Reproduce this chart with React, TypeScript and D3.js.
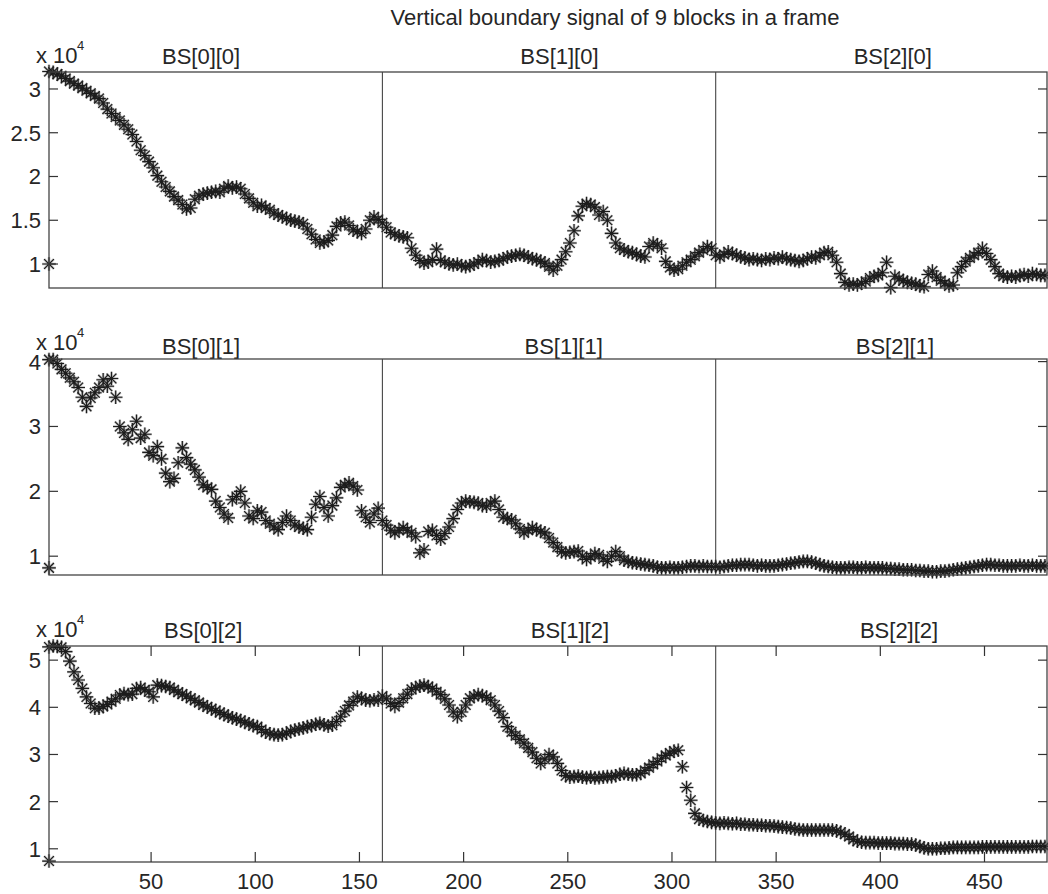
import React from "react";
import * as d3 from "d3";

// ---------------- data (values in units of 10^4) ----------------
const TITLE = "Vertical boundary signal of 9 blocks in a frame";
const X_DOMAIN = [1, 480];
const X_TICKS = [50, 100, 150, 200, 250, 300, 350, 400, 450];
const BLOCK_BOUNDS = [161, 321];
const SAMPLE_X0 = 1;
const SAMPLE_STEP = 2;

// row j = 0 : BS[0][0] | BS[1][0] | BS[2][0]
const row0 = [
  3.20,3.19,3.17,3.15,3.12,3.09,3.06,3.04,3.01,2.98,
  2.95,2.92,2.89,2.84,2.77,2.72,2.68,2.64,2.59,2.54,
  2.48,2.40,2.30,2.24,2.17,2.10,2.01,1.94,1.88,1.83,
  1.77,1.73,1.68,1.63,1.64,1.74,1.78,1.80,1.81,1.82,
  1.83,1.82,1.86,1.89,1.87,1.88,1.86,1.80,1.75,1.70,
  1.66,1.67,1.64,1.62,1.58,1.56,1.54,1.52,1.50,1.49,
  1.48,1.46,1.40,1.34,1.28,1.24,1.25,1.27,1.33,1.43,
  1.47,1.48,1.44,1.39,1.37,1.35,1.40,1.50,1.54,1.51,
  1.47,1.42,1.36,1.34,1.32,1.31,1.30,1.18,1.10,1.04,
  1.01,1.02,1.05,1.17,1.04,1.02,1.00,0.99,1.00,0.98,
  0.97,0.98,1.00,1.02,1.05,1.04,1.02,1.03,1.04,1.06,
  1.08,1.09,1.10,1.11,1.10,1.08,1.06,1.05,1.03,1.01,
  0.97,0.93,0.98,1.05,1.14,1.24,1.38,1.55,1.66,1.69,
  1.68,1.65,1.56,1.60,1.50,1.35,1.24,1.18,1.16,1.14,
  1.13,1.11,1.09,1.08,1.20,1.24,1.22,1.18,1.03,0.96,
  0.93,0.94,0.98,1.02,1.05,1.09,1.13,1.16,1.20,1.18,
  1.10,1.08,1.11,1.14,1.12,1.10,1.08,1.07,1.05,1.06,
  1.05,1.04,1.06,1.05,1.07,1.06,1.08,1.06,1.05,1.04,
  1.03,1.04,1.06,1.08,1.07,1.10,1.13,1.14,1.10,1.02,
  0.89,0.79,0.76,0.77,0.76,0.78,0.80,0.84,0.86,0.87,
  0.90,1.02,0.73,0.86,0.83,0.81,0.79,0.78,0.77,0.75,
  0.74,0.88,0.92,0.85,0.81,0.78,0.75,0.76,0.90,0.97,
  1.03,1.07,1.10,1.13,1.18,1.12,1.05,0.97,0.89,0.86,
  0.85,0.86,0.85,0.87,0.88,0.86,0.89,0.88,0.87,0.87,
];

// row j = 1 : BS[0][1] | BS[1][1] | BS[2][1]
const row1 = [
  4.03,4.03,3.97,3.88,3.82,3.75,3.69,3.60,3.45,3.31,
  3.44,3.52,3.60,3.72,3.62,3.74,3.45,3.00,2.90,2.80,
  2.95,3.08,2.82,2.88,2.60,2.55,2.69,2.50,2.28,2.15,
  2.20,2.44,2.67,2.52,2.42,2.33,2.22,2.10,2.06,2.03,
  1.85,1.75,1.65,1.59,1.87,1.92,2.00,1.82,1.62,1.58,
  1.70,1.68,1.55,1.50,1.45,1.41,1.52,1.62,1.55,1.48,
  1.45,1.43,1.41,1.60,1.80,1.92,1.75,1.62,1.78,1.90,
  2.06,2.10,2.13,2.08,2.02,1.70,1.60,1.52,1.65,1.74,
  1.55,1.48,1.40,1.36,1.40,1.44,1.40,1.36,1.30,1.05,
  1.10,1.38,1.40,1.32,1.26,1.35,1.45,1.58,1.72,1.82,
  1.85,1.84,1.83,1.82,1.78,1.77,1.82,1.85,1.72,1.60,
  1.58,1.56,1.50,1.42,1.36,1.40,1.44,1.41,1.38,1.36,
  1.28,1.21,1.14,1.07,1.05,1.06,1.07,1.08,1.00,0.95,
  0.99,1.04,1.02,0.96,0.92,1.00,1.07,1.00,0.94,0.92,
  0.90,0.89,0.88,0.87,0.86,0.85,0.83,0.82,0.82,0.83,
  0.82,0.82,0.83,0.84,0.85,0.85,0.84,0.85,0.84,0.84,
  0.84,0.83,0.84,0.85,0.86,0.86,0.87,0.87,0.87,0.86,
  0.85,0.86,0.85,0.85,0.85,0.86,0.87,0.88,0.89,0.90,
  0.91,0.92,0.92,0.91,0.89,0.87,0.85,0.84,0.83,0.82,
  0.82,0.82,0.83,0.83,0.82,0.82,0.83,0.82,0.82,0.82,
  0.82,0.81,0.81,0.80,0.80,0.79,0.79,0.79,0.78,0.78,
  0.77,0.77,0.76,0.76,0.77,0.77,0.78,0.79,0.80,0.81,
  0.82,0.83,0.84,0.85,0.86,0.87,0.87,0.86,0.86,0.85,
  0.85,0.85,0.85,0.86,0.85,0.85,0.86,0.85,0.85,0.85,
];

// row j = 2 : BS[0][2] | BS[1][2] | BS[2][2]
const row2 = [
  5.28,5.30,5.29,5.27,5.18,4.98,4.75,4.58,4.40,4.22,
  4.08,3.98,3.98,4.02,4.06,4.12,4.18,4.26,4.29,4.27,
  4.28,4.40,4.42,4.37,4.33,4.22,4.47,4.46,4.44,4.42,
  4.37,4.32,4.28,4.24,4.19,4.15,4.10,4.05,4.01,3.97,
  3.93,3.89,3.85,3.81,3.78,3.75,3.72,3.68,3.65,3.61,
  3.59,3.53,3.47,3.44,3.42,3.41,3.42,3.45,3.49,3.52,
  3.54,3.56,3.59,3.61,3.64,3.66,3.63,3.60,3.62,3.70,
  3.80,3.92,4.04,4.12,4.22,4.19,4.15,4.14,4.16,4.15,
  4.24,4.18,4.08,4.02,4.10,4.19,4.28,4.38,4.42,4.45,
  4.47,4.44,4.40,4.33,4.27,4.18,4.05,3.90,3.80,3.90,
  4.05,4.19,4.24,4.27,4.25,4.21,4.15,4.05,3.92,3.78,
  3.59,3.48,3.40,3.32,3.24,3.14,3.05,2.92,2.81,2.90,
  3.00,2.95,2.81,2.66,2.55,2.52,2.53,2.54,2.52,2.51,
  2.52,2.50,2.51,2.52,2.53,2.53,2.55,2.58,2.60,2.58,
  2.57,2.57,2.60,2.66,2.72,2.79,2.85,2.92,2.98,3.03,
  3.07,3.09,2.74,2.30,2.03,1.75,1.63,1.60,1.58,1.56,
  1.55,1.54,1.55,1.54,1.53,1.54,1.52,1.52,1.51,1.51,
  1.50,1.50,1.49,1.49,1.48,1.47,1.46,1.45,1.44,1.42,
  1.41,1.40,1.40,1.40,1.40,1.40,1.40,1.40,1.40,1.38,
  1.35,1.31,1.26,1.20,1.16,1.14,1.13,1.13,1.13,1.12,
  1.12,1.12,1.12,1.11,1.11,1.11,1.10,1.10,1.08,1.05,
  1.02,1.00,1.00,1.00,1.01,1.01,1.02,1.03,1.03,1.03,
  1.03,1.03,1.03,1.03,1.04,1.04,1.04,1.04,1.04,1.04,
  1.04,1.04,1.04,1.04,1.04,1.04,1.05,1.05,1.05,1.05,
];

// lone marker at x = 1 in each row
const firstMarkerX = [1, 1, 1];
const firstMarkerY = [1.0, 0.82, 0.74];

const blockLabels0 = ["BS[0][0]", "BS[1][0]", "BS[2][0]"];
const blockLabels1 = ["BS[0][1]", "BS[1][1]", "BS[2][1]"];
const blockLabels2 = ["BS[0][2]", "BS[1][2]", "BS[2][2]"];
const blockLabelX0 = [74, 246, 406];
const blockLabelX1 = [74, 248, 407];
const blockLabelX2 = [75, 251, 409];

const yTicks0 = [1, 1.5, 2, 2.5, 3];
const yTicks1 = [1, 2, 3, 4];
const yTicks2 = [1, 2, 3, 4, 5];
const yDomain0 = [0.726, 3.194];
const yDomain1 = [0.71, 4.04];
const yDomain2 = [0.72, 5.3];

// ---------------- drawing ----------------
const FONT = "'Liberation Sans', Arial, Helvetica, sans-serif";
const INK = "#262626";

function starPath(r: number) {
  const d = r * 0.72;
  return `M${-r},0H${r}M0,${-r}V${r}M${-d},${-d}L${d},${d}M${-d},${d}L${d},${-d}`;
}

export default function App() {
  const W = 1048;
  const H = 894;
  const left = 49;
  const right = 1047;
  const panelH = 216;
  const x = d3.scaleLinear().domain(X_DOMAIN).range([left, right]);

  const panels = [
    { top: 72, values: row0, domain: yDomain0, ticks: yTicks0, labels: blockLabels0, labelX: blockLabelX0, labelBase: 63.5, xTicks: false },
    { top: 359, values: row1, domain: yDomain1, ticks: yTicks1, labels: blockLabels1, labelX: blockLabelX1, labelBase: 354, xTicks: false },
    { top: 646, values: row2, domain: yDomain2, ticks: yTicks2, labels: blockLabels2, labelX: blockLabelX2, labelBase: 638, xTicks: true },
  ];

  const star = starPath(6.8);

  return (
    <svg
      width={W}
      height={H}
      viewBox={`0 0 ${W} ${H}`}
      style={{ position: "absolute", left: 0, top: 0, background: "#fff" }}
      fontFamily={FONT}
    >
      <rect x={0} y={0} width={W} height={H} fill="#fff" />
      <text x={615} y={25} textAnchor="middle" fontSize={22} fill={INK}>
        {TITLE}
      </text>
      {panels.map((p, pi) => {
        const y = d3.scaleLinear().domain(p.domain).range([p.top + panelH, p.top]);
        const bottom = p.top + panelH;
        const pts = p.values.map((v, i) => [x(SAMPLE_X0 + i * SAMPLE_STEP), y(v)]);
        pts.push([x(firstMarkerX[pi]), y(firstMarkerY[pi])]);
        return (
          <g key={pi}>
            <defs>
              <clipPath id={`clip${pi}`}>
                <rect x={0} y={p.top - 12} width={W} height={panelH + 24} />
              </clipPath>
            </defs>
            {/* exponent label */}
            <text x={36} y={p.top - 9} fontSize={22} fill={INK}>
              x 10
            </text>
            <text x={77} y={p.top - 22} fontSize={13} fill={INK}>
              4
            </text>
            {/* block labels */}
            {p.labels.map((lab, li) => (
              <text key={li} x={x(p.labelX[li])} y={p.labelBase} textAnchor="middle" fontSize={22} fill={INK}>
                {lab}
              </text>
            ))}
            {/* block separators */}
            {BLOCK_BOUNDS.map((b) => (
              <line key={b} x1={x(b)} x2={x(b)} y1={p.top} y2={bottom} stroke="#333" strokeWidth={1} />
            ))}
            {/* markers: soft gray halo then dark strokes */}
            <g clipPath={`url(#clip${pi})`} fill="none">
              <g stroke="#8a8a8a" strokeWidth={2.6} strokeOpacity={0.55}>
                {pts.map((pt, i) => (
                  <path key={i} d={star} transform={`translate(${pt[0]},${pt[1]})`} />
                ))}
              </g>
              <g stroke="#1c1c1c" strokeWidth={1.15}>
                {pts.map((pt, i) => (
                  <path key={i} d={star} transform={`translate(${pt[0]},${pt[1]})`} />
                ))}
              </g>
            </g>
            {/* box */}
            <rect x={left} y={p.top} width={right - left} height={panelH} fill="none" stroke="#444" strokeWidth={1.3} />
            {/* y ticks */}
            {p.ticks.map((t) => (
              <g key={t}>
                <line x1={left} x2={left + 9} y1={y(t)} y2={y(t)} stroke="#333" strokeWidth={1.2} />
                <line x1={right - 9} x2={right} y1={y(t)} y2={y(t)} stroke="#333" strokeWidth={1.2} />
                <text x={41} y={y(t)} dy="0.36em" textAnchor="end" fontSize={22} fill={INK}>
                  {String(t)}
                </text>
              </g>
            ))}
            {/* x ticks only on last panel */}
            {p.xTicks &&
              X_TICKS.map((t) => (
                <g key={t}>
                  <line x1={x(t)} x2={x(t)} y1={bottom} y2={bottom - 10} stroke="#333" strokeWidth={1.2} />
                  <line x1={x(t)} x2={x(t)} y1={p.top} y2={p.top + 10} stroke="#333" strokeWidth={1.2} />
                  <text x={x(t)} y={bottom + 27} textAnchor="middle" fontSize={22} fill={INK}>
                    {String(t)}
                  </text>
                </g>
              ))}
          </g>
        );
      })}
    </svg>
  );
}
